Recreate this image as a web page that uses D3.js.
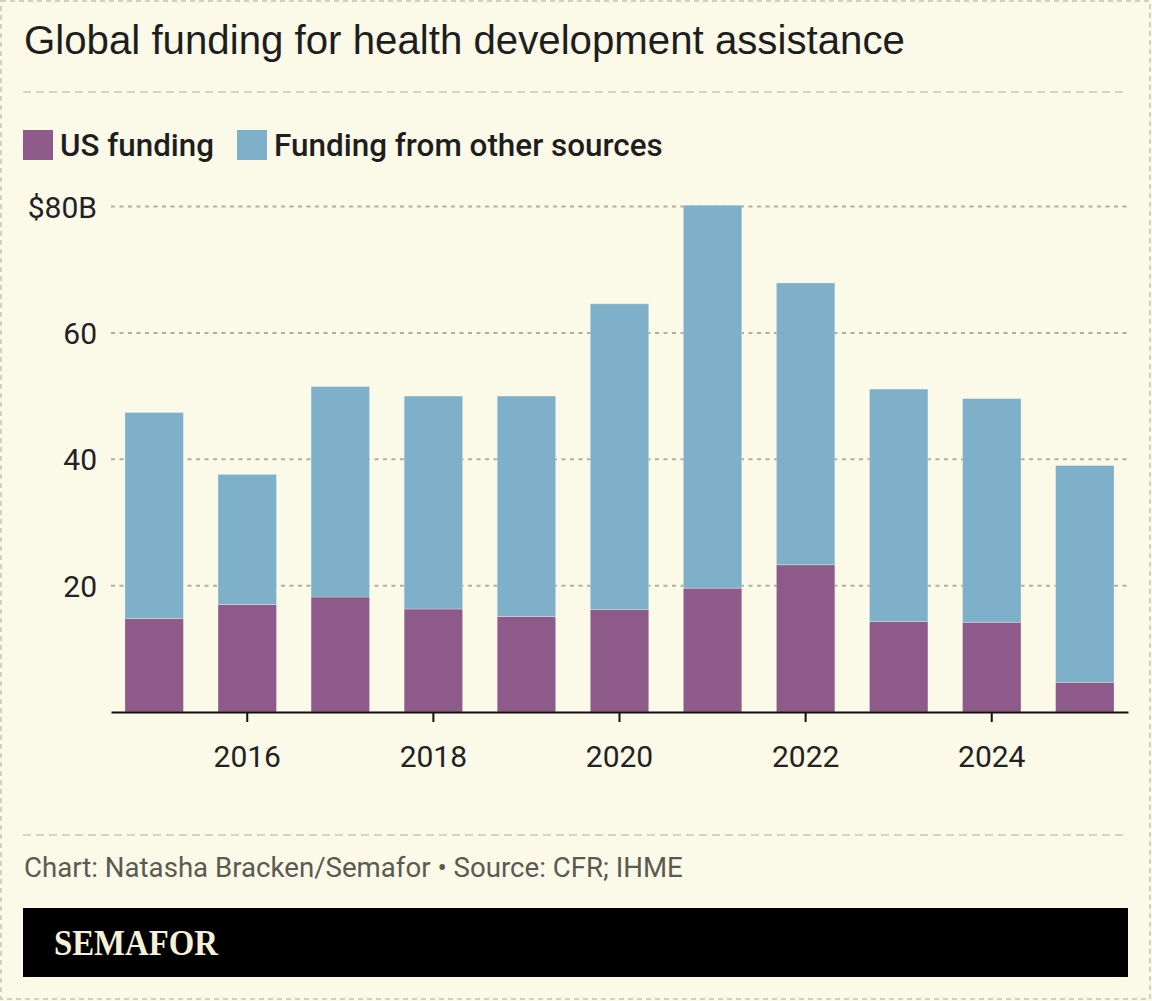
<!DOCTYPE html>
<html><head><meta charset="utf-8">
<script src="https://cdn.jsdelivr.net/npm/d3@7"></script>
<style>html,body{margin:0;padding:0;background:#fbf9e8;} svg{display:block}</style>
</head><body><svg id="chart" width="1152" height="1001"></svg>
<script>
// ---- data ----
const years = [2015, 2016, 2017, 2018, 2019, 2020, 2021, 2022, 2023, 2024, 2025];
const usFunding = [14.8, 17.0, 18.2, 16.3, 15.1, 16.2, 19.6, 23.3, 14.3, 14.2, 4.7];
const otherFunding = [32.6, 20.6, 33.3, 33.7, 34.9, 48.4, 60.6, 44.6, 36.8, 35.4, 34.3];
const seriesKeys = ["us", "other"];
const seriesLabels = ["US funding", "Funding from other sources"];
const yTickValues = [20, 40, 60, 80];
const xTickYears = [2016, 2018, 2020, 2022, 2024];
const titleText = "Global funding for health development assistance";
const footerText = "Chart: Natasha Bracken/Semafor \u2022 Source: CFR; IHME";
const logoText = "SEMAFOR";

// ---- styles ----
const colors = { us: "#8d5a89", other: "#7fb0c9" };
const bg = "#fbf9e8";
const svg = d3.select("#chart");

function fitWidth(sel, target) {
  const w = sel.node().getComputedTextLength();
  const fs = parseFloat(sel.attr("font-size"));
  sel.attr("font-size", fs * target / w);
}

svg.append("rect").attr("width", 1152).attr("height", 1001).attr("fill", bg);
svg.append("rect").attr("x", 1).attr("y", 1).attr("width", 1149).attr("height", 998)
  .attr("fill", "none").attr("stroke", "#c4c2b4").attr("stroke-width", 1.5).attr("stroke-dasharray", "5,4");

// title
const title = svg.append("text").attr("x", 24).attr("y", 54)
  .attr("font-family", "'Liberation Sans', Arial, sans-serif").attr("font-size", 35)
  .attr("fill", "#1e1e1e").text(titleText);
fitWidth(title, 881);

// separators
[92, 835].forEach(y => {
  svg.append("line").attr("x1", 23).attr("x2", 1128).attr("y1", y).attr("y2", y)
    .attr("stroke", "#c8c6b8").attr("stroke-width", 1.5).attr("stroke-dasharray", "8,5");
});

// legend
const legendX = [23, 237];
const legendW = [154, 389];
seriesKeys.forEach((k, i) => {
  svg.append("rect").attr("x", legendX[i]).attr("y", 130).attr("width", 30).attr("height", 30)
    .attr("fill", colors[k]);
  const t = svg.append("text").attr("x", legendX[i] + 37).attr("y", 156)
    .attr("font-family", "Roboto, sans-serif").attr("font-weight", 500).attr("font-size", 29)
    .attr("fill", "#1e1e1e").text(seriesLabels[i]);
  fitWidth(t, legendW[i]);
});

// scales
const x = d3.scaleBand().domain(years).range([111, 1128]).paddingInner(0.372).paddingOuter(0.15);
const y = d3.scaleLinear().domain([0, 80]).range([712, 206.5]);

// gridlines
const grid = svg.append("g");
grid.selectAll("line").data(yTickValues).join("line")
  .attr("x1", 111).attr("x2", 1128)
  .attr("y1", d => y(d)).attr("y2", d => y(d))
  .attr("stroke", "#b0ae a0".replace(" ", "")).attr("stroke-width", 2).attr("stroke-dasharray", "4,4.5");

// y labels
svg.append("g").selectAll("text").data(yTickValues).join("text")
  .attr("x", 97).attr("y", d => y(d) + 11).attr("text-anchor", "end")
  .attr("font-family", "Roboto, sans-serif").attr("font-size", 30).attr("fill", "#222")
  .text(d => d === 80 ? "$80B" : d);

// stacked bars
const table = years.map((yr, i) => ({ year: yr, us: usFunding[i], other: otherFunding[i] }));
const stacked = d3.stack().keys(seriesKeys)(table);
svg.append("g").selectAll("g").data(stacked).join("g")
  .attr("fill", d => colors[d.key])
  .selectAll("rect").data(d => d).join("rect")
  .attr("x", d => x(d.data.year))
  .attr("width", x.bandwidth())
  .attr("y", d => y(d[1]))
  .attr("height", d => y(d[0]) - y(d[1]))
  .attr("stroke", "rgba(255,255,240,0.35)").attr("stroke-width", 0.8);

// x axis
const axis = d3.axisBottom(x).tickValues(xTickYears).tickSize(10).tickPadding(24).tickSizeOuter(0);
const gx = svg.append("g").attr("transform", "translate(0,712)").call(axis);
gx.select(".domain").attr("stroke", "#111").attr("stroke-width", 2);
gx.selectAll(".tick line").attr("stroke", "#111").attr("stroke-width", 2);
gx.selectAll(".tick text").attr("font-family", "Roboto, sans-serif").attr("font-size", 30)
  .attr("fill", "#222");

// footer
const foot = svg.append("text").attr("x", 24).attr("y", 877)
  .attr("font-family", "Roboto, sans-serif").attr("font-size", 27).attr("fill", "#5b5a52")
  .text(footerText);
fitWidth(foot, 659);

svg.append("rect").attr("x", 23).attr("y", 908).attr("width", 1105).attr("height", 69).attr("fill", "#000");
svg.append("text").attr("x", 54).attr("y", 955)
  .attr("font-family", "'Liberation Serif', 'DejaVu Serif', serif").attr("font-weight", 700)
  .attr("font-size", 35).attr("fill", "#f6f1d6")
  .attr("textLength", 164).attr("lengthAdjust", "spacingAndGlyphs")
  .text(logoText);
</script>
</body></html>
